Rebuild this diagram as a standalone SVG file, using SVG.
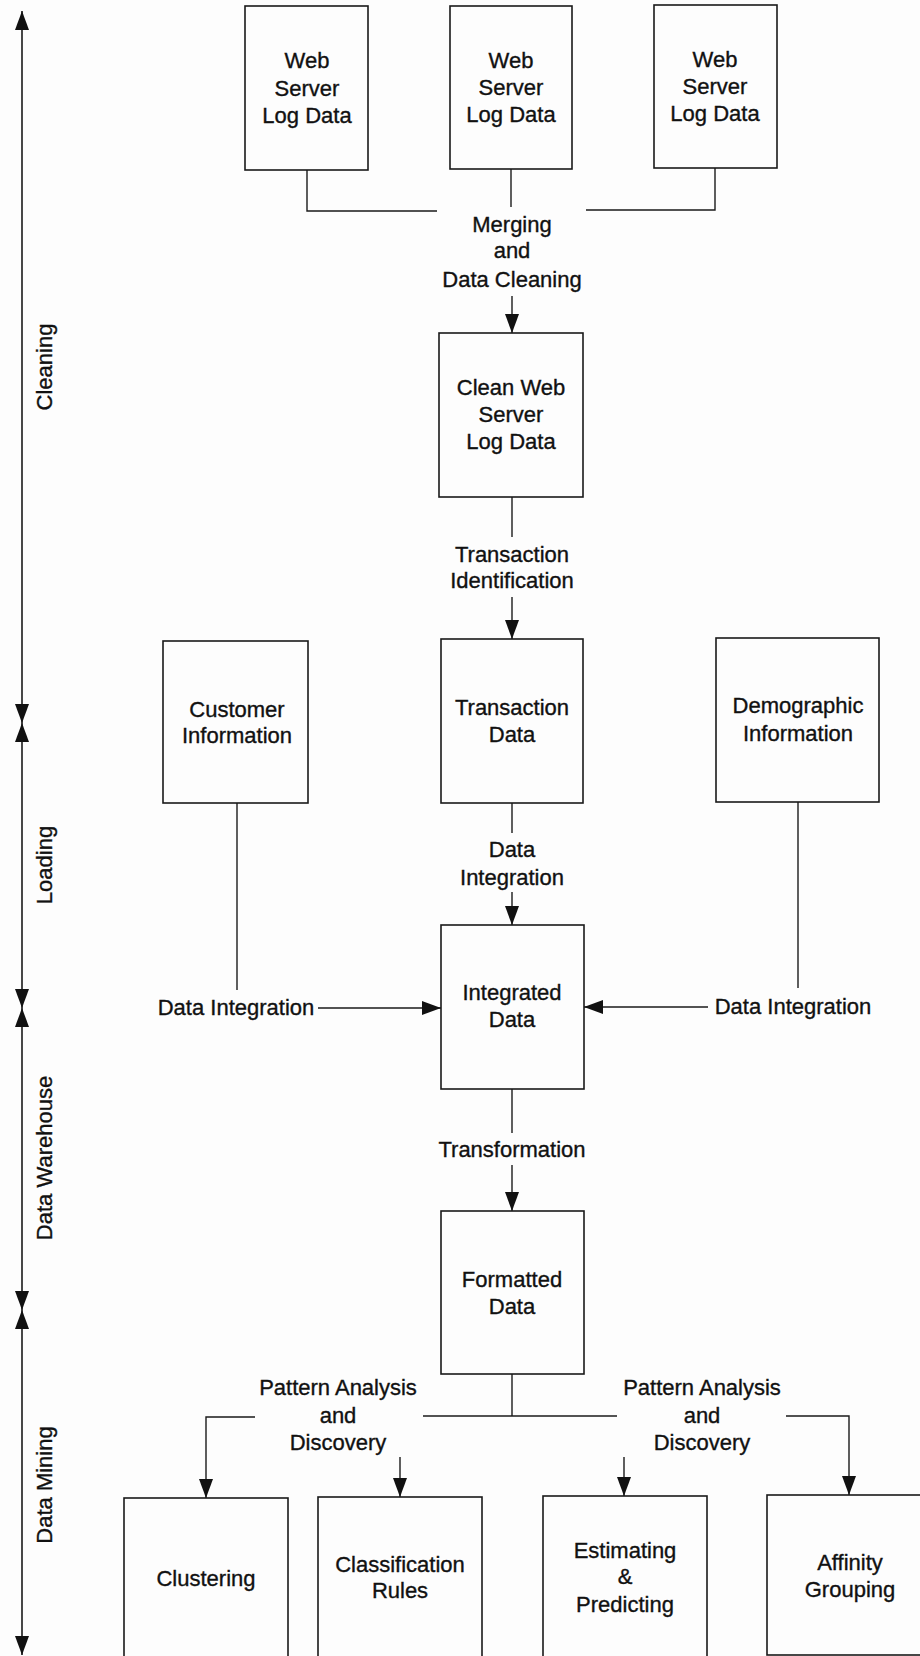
<svg xmlns="http://www.w3.org/2000/svg" width="920" height="1656" viewBox="0 0 920 1656">
<defs>
<marker id="ah" markerUnits="userSpaceOnUse" markerWidth="19" markerHeight="14" refX="19" refY="7" orient="auto-start-reverse" viewBox="0 0 19 14">
<path d="M0,0 L19,7 L0,14 Z" fill="#111"/>
</marker>
</defs>
<style>
.box{fill:none;stroke:#1a1a1a;stroke-width:1.6}
.ln{fill:none;stroke:#1a1a1a;stroke-width:1.4}
.arr{fill:none;stroke:#1a1a1a;stroke-width:1.4;marker-end:url(#ah)}
.ax{fill:none;stroke:#1a1a1a;stroke-width:1.6;marker-start:url(#ah);marker-end:url(#ah)}
text{font-family:"Liberation Sans",Arial,sans-serif;font-size:22px;fill:#111;stroke:#111;stroke-width:0.35;text-anchor:middle}
</style>
<rect x="0" y="0" width="920" height="1656" fill="#fdfdfd"/>

<g id="axis">
<line class="ax" x1="22" y1="11" x2="22" y2="723"/>
<line class="ax" x1="22" y1="723" x2="22" y2="1008"/>
<line class="ax" x1="22" y1="1008" x2="22" y2="1310"/>
<line class="ax" x1="22" y1="1310" x2="22" y2="1655"/>
<text transform="translate(52,367) rotate(-90)">Cleaning</text>
<text transform="translate(52,865) rotate(-90)">Loading</text>
<text transform="translate(52,1158) rotate(-90)">Data Warehouse</text>
<text transform="translate(52,1485) rotate(-90)">Data Mining</text>
</g>

<g id="connectors">
<polyline class="ln" points="307,170 307,211 437,211"/>
<line class="ln" x1="511" y1="169" x2="511" y2="207"/>
<polyline class="ln" points="715,168 715,210 586,210"/>
<text x="512" y="232">Merging</text>
<text x="512" y="258">and</text>
<text x="512" y="287">Data Cleaning</text>
<line class="arr" x1="512" y1="296" x2="512" y2="333"/>

<line class="ln" x1="512" y1="497" x2="512" y2="537"/>
<text x="512" y="562">Transaction</text>
<text x="512" y="588">Identification</text>
<line class="arr" x1="512" y1="597" x2="512" y2="639"/>

<line class="ln" x1="512" y1="803" x2="512" y2="833"/>
<text x="512" y="857">Data</text>
<text x="512" y="885">Integration</text>
<line class="arr" x1="512" y1="892" x2="512" y2="925"/>

<line class="ln" x1="237" y1="803" x2="237" y2="990"/>
<text x="236" y="1015">Data Integration</text>
<line class="arr" x1="318" y1="1008" x2="441" y2="1008"/>

<line class="ln" x1="798" y1="802" x2="798" y2="988"/>
<text x="793" y="1014">Data Integration</text>
<line class="arr" x1="708" y1="1007" x2="584" y2="1007"/>

<line class="ln" x1="512" y1="1089" x2="512" y2="1133"/>
<text x="512" y="1157">Transformation</text>
<line class="arr" x1="512" y1="1165" x2="512" y2="1211"/>

<line class="ln" x1="512" y1="1374" x2="512" y2="1416"/>
<line class="ln" x1="423" y1="1416" x2="617" y2="1416"/>
<text x="338" y="1395">Pattern Analysis</text>
<text x="338" y="1423">and</text>
<text x="338" y="1450">Discovery</text>
<text x="702" y="1395">Pattern Analysis</text>
<text x="702" y="1423">and</text>
<text x="702" y="1450">Discovery</text>
<polyline class="arr" points="255,1417 206,1417 206,1498"/>
<polyline class="arr" points="786,1416 849,1416 849,1495"/>
<line class="arr" x1="400" y1="1457" x2="400" y2="1497"/>
<line class="arr" x1="624" y1="1457" x2="624" y2="1496"/>
</g>

<g id="ws1"><rect class="box" x="245" y="6" width="123" height="164"/>
<text x="307" y="68">Web</text><text x="307" y="96">Server</text><text x="307" y="123">Log Data</text></g>
<g id="ws2"><rect class="box" x="450" y="6" width="122" height="163"/>
<text x="511" y="68">Web</text><text x="511" y="95">Server</text><text x="511" y="122">Log Data</text></g>
<g id="ws3"><rect class="box" x="654" y="5" width="123" height="163"/>
<text x="715" y="67">Web</text><text x="715" y="94">Server</text><text x="715" y="121">Log Data</text></g>

<g id="clean"><rect class="box" x="439" y="333" width="144" height="164"/>
<text x="511" y="395">Clean Web</text><text x="511" y="422">Server</text><text x="511" y="449">Log Data</text></g>

<g id="customer"><rect class="box" x="163" y="641" width="145" height="162"/>
<text x="237" y="717">Customer</text><text x="237" y="743">Information</text></g>
<g id="transaction"><rect class="box" x="441" y="639" width="142" height="164"/>
<text x="512" y="715">Transaction</text><text x="512" y="742">Data</text></g>
<g id="demographic"><rect class="box" x="716" y="638" width="163" height="164"/>
<text x="798" y="713">Demographic</text><text x="798" y="741">Information</text></g>

<g id="integrated"><rect class="box" x="441" y="925" width="143" height="164"/>
<text x="512" y="1000">Integrated</text><text x="512" y="1027">Data</text></g>

<g id="formatted"><rect class="box" x="441" y="1211" width="143" height="163"/>
<text x="512" y="1287">Formatted</text><text x="512" y="1314">Data</text></g>

<g id="clustering"><rect class="box" x="124" y="1498" width="164" height="162"/>
<text x="206" y="1586">Clustering</text></g>
<g id="classification"><rect class="box" x="318" y="1497" width="164" height="163"/>
<text x="400" y="1572">Classification</text><text x="400" y="1598">Rules</text></g>
<g id="estimating"><rect class="box" x="543" y="1496" width="164" height="164"/>
<text x="625" y="1558">Estimating</text><text x="625" y="1584">&amp;</text><text x="625" y="1612">Predicting</text></g>
<g id="affinity"><rect class="box" x="767" y="1495" width="164" height="160"/>
<text x="850" y="1570">Affinity</text><text x="850" y="1597">Grouping</text></g>
</svg>
